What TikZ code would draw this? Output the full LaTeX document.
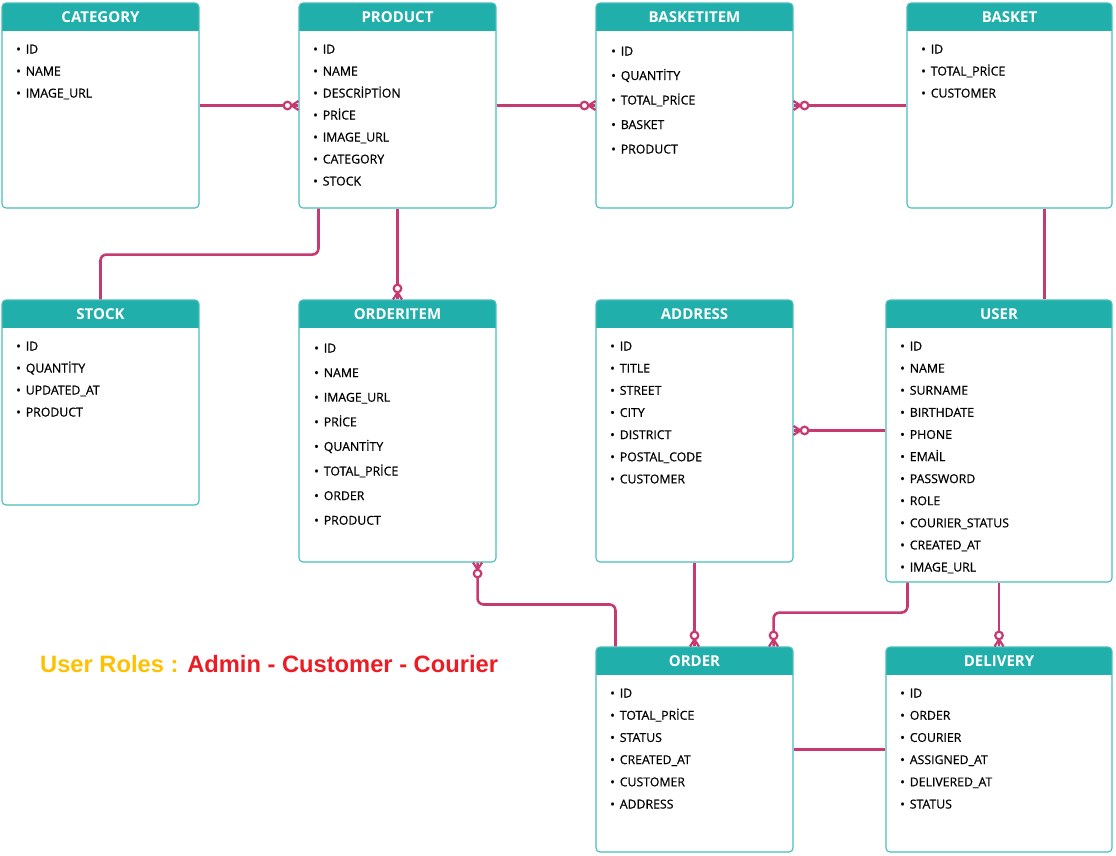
\documentclass[tikz,border=0pt]{standalone}
\usepackage{fontspec}
\setmainfont{Open Sans}
\newfontfamily\fieldfont{Open Sans}[FakeBold=0.6]
\newfontfamily\rolesfont{Liberation Sans}
\usetikzlibrary{calc,fit}

\definecolor{erteal}{RGB}{33,175,171}
\definecolor{erborder}{RGB}{72,190,188}
\definecolor{errel}{RGB}{199,58,113}
\definecolor{roleyellow}{RGB}{255,192,0}
\definecolor{rolered}{RGB}{237,28,36}

\tikzset{
  entitybox/.style={draw=erborder, line width=1.1pt, rounded corners=4pt, inner sep=0pt},
  headtext/.style={text=white, inner sep=0pt, font=\fontsize{15}{18}\selectfont\bfseries},
  fieldtext/.style={anchor=base west, inner sep=0pt, text=black, font=\fieldfont\fontsize{12.3}{14}\selectfont},
  rel/.style={draw=errel, line width=2.6pt},
  relbend/.style={rel, rounded corners=6pt},
  % zero-or-many end: crow's foot on the entity edge, open circle behind it
  manyopt/.pic={
    \draw[errel, line width=2.2pt] (0,4.5) -- (7,0) -- (0,-4.5);
    \draw[errel, line width=2.2pt, fill=white] (11,0) circle[radius=3.8pt];
  }
}

% entity box: name, x1, y1, x2, y2, title
\newcommand\erentity[6]{%
  \begin{scope}
    \clip[rounded corners=4pt] (#2,#3) rectangle (#4,#5);
    \fill[erteal] (#2,#3) rectangle (#4,{#3+28});
  \end{scope}
  \coordinate (#1-nw) at (#2,#3);
  \coordinate (#1-se) at (#4,#5);
  \node[entitybox, fit=(#1-nw)(#1-se)] (#1) {};
  \node[headtext] (#1-title) at ($(#1.north)+(0,15)$) {#6};
}
% attribute list: name, x, first baseline, line step, items
\newcommand\erfields[5]{%
  \foreach \f [count=\i] in {#5}
    \node[fieldtext] (#1-f\i) at (#2,{#3+(\i-1)*#4}) {\textbullet\hspace{5pt}\f};
}

\begin{document}
\begin{tikzpicture}[x=1pt, y=-1pt]
\fill[white] (0,0) rectangle (1116,855);
\useasboundingbox (0,0) rectangle (1116,855);

% ---- entities ----
\erentity{category}{2}{3}{199}{208}{CATEGORY}
\erfields{category}{16}{53.5}{22}{ID, NAME, IMAGE\_URL}

\erentity{product}{299}{3}{496}{208}{PRODUCT}
\erfields{product}{313}{53.5}{22}{ID, NAME, DESCRİPTİON, PRİCE, IMAGE\_URL, CATEGORY, STOCK}

\erentity{basketitem}{596}{3}{793}{208}{BASKETITEM}
\erfields{basketitem}{611}{55.5}{24.5}{ID, QUANTİTY, TOTAL\_PRİCE, BASKET, PRODUCT}

\erentity{basket}{907}{3}{1112}{208}{BASKET}
\erfields{basket}{921}{53.5}{22}{ID, TOTAL\_PRİCE, CUSTOMER}

\erentity{stock}{2}{300}{199}{505}{STOCK}
\erfields{stock}{16}{350.5}{22}{ID, QUANTİTY, UPDATED\_AT, PRODUCT}

\erentity{orderitem}{299}{300}{496}{562}{ORDERITEM}
\erfields{orderitem}{314}{352.5}{24.6}{ID, NAME, IMAGE\_URL, PRİCE, QUANTİTY, TOTAL\_PRİCE, ORDER, PRODUCT}

\erentity{address}{596}{300}{793}{562}{ADDRESS}
\erfields{address}{610}{350.5}{22.15}{ID, TITLE, STREET, CITY, DISTRICT, POSTAL\_CODE, CUSTOMER}

\erentity{user}{886}{300}{1112}{582}{USER}
\erfields{user}{900}{350.5}{22.1}{ID, NAME, SURNAME, BIRTHDATE, PHONE, EMAİL, PASSWORD, ROLE, COURIER\_STATUS, CREATED\_AT, IMAGE\_URL}

\erentity{order}{596}{647}{793}{852}{ORDER}
\erfields{order}{610}{697.5}{22.2}{ID, TOTAL\_PRİCE, STATUS, CREATED\_AT, CUSTOMER, ADDRESS}

\erentity{delivery}{886}{647}{1112}{852}{DELIVERY}
\erfields{delivery}{900}{697.5}{22.2}{ID, ORDER, COURIER, ASSIGNED\_AT, DELIVERED\_AT, STATUS}

% ---- relationship end points ----
\coordinate (ps) at ($(product.south west)+(20,0)$);
\coordinate (bu) at ($(basket.south west)+(138,0)$);
\coordinate (ua) at ($(user.north west)+(0,131)$);
\coordinate (ae) at (ua -| address.east);
\coordinate (on) at ($(order.north west)+(20,0)$);
\coordinate (ois) at ($(orderitem.south east)+(-19,0)$);
\coordinate (us) at ($(user.south west)+(22,0)$);
\coordinate (one) at ($(order.north east)+(-20,0)$);

% ---- relationships ----
\draw[rel] (category.east) -- (product.west);
\draw[rel] (product.east) -- (basketitem.west);
\draw[rel] (basket.west) -- (basketitem.east);
\draw[relbend] (ps) -- ++(0,46) -| (stock.north);
\draw[rel] (product.south) -- (orderitem.north);
\draw[rel] (bu) -- (bu |- user.north);
\draw[rel] (ua) -- (ae);
\draw[relbend] (on) -- ++(0,-42) -| (ois);
\draw[rel] (address.south) -- (order.north);
\draw[relbend] (us) -- ++(0,30) -| (one);
\draw[rel] (user.south) -- (delivery.north);
\draw[rel] (order.east) -- (delivery.west);

% ---- zero-or-many ends ----
\pic[rotate=180] at (product.west) {manyopt};
\pic[rotate=180] at (basketitem.west) {manyopt};
\pic at (basketitem.east) {manyopt};
\pic[rotate=90] at (orderitem.north) {manyopt};
\pic at (ae) {manyopt};
\pic[rotate=-90] at (ois) {manyopt};
\pic[rotate=90] at (order.north) {manyopt};
\pic[rotate=90] at (one) {manyopt};
\pic[rotate=90] at (delivery.north) {manyopt};

% ---- note ----
\node[anchor=base west, inner sep=0pt, font=\rolesfont\bfseries\fontsize{23.7}{27}\selectfont] (roles) at (40,672.5)
  {\textcolor{roleyellow}{User Roles :} \textcolor{rolered}{Admin - Customer - Courier}};
\end{tikzpicture}
\end{document}
